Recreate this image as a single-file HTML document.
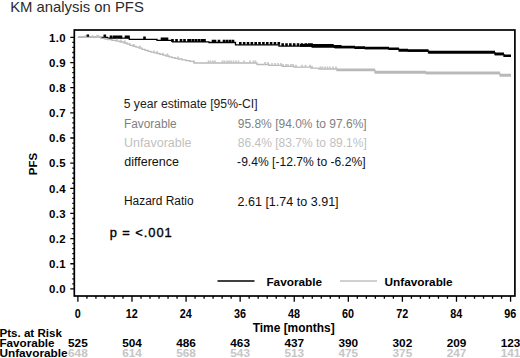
<!DOCTYPE html><html><head><meta charset="utf-8"><style>html,body{margin:0;padding:0;background:#fff;width:520px;height:358px;overflow:hidden}svg{display:block}text{font-family:"Liberation Sans",sans-serif}</style></head><body>
<svg width="520" height="358" viewBox="0 0 520 358">
<rect x="74.3" y="30.0" width="440.59999999999997" height="266.0" fill="none" stroke="#000" stroke-width="1.7"/>
<path d="M70.3,288.90H74.3 M72.3,283.87H74.3 M72.3,278.84H74.3 M72.3,273.81H74.3 M72.3,268.78H74.3 M70.3,263.75H74.3 M72.3,258.72H74.3 M72.3,253.69H74.3 M72.3,248.66H74.3 M72.3,243.63H74.3 M70.3,238.60H74.3 M72.3,233.57H74.3 M72.3,228.54H74.3 M72.3,223.51H74.3 M72.3,218.48H74.3 M70.3,213.45H74.3 M72.3,208.42H74.3 M72.3,203.39H74.3 M72.3,198.36H74.3 M72.3,193.33H74.3 M70.3,188.30H74.3 M72.3,183.27H74.3 M72.3,178.24H74.3 M72.3,173.21H74.3 M72.3,168.18H74.3 M70.3,163.15H74.3 M72.3,158.12H74.3 M72.3,153.09H74.3 M72.3,148.06H74.3 M72.3,143.03H74.3 M70.3,138.00H74.3 M72.3,132.97H74.3 M72.3,127.94H74.3 M72.3,122.91H74.3 M72.3,117.88H74.3 M70.3,112.85H74.3 M72.3,107.82H74.3 M72.3,102.79H74.3 M72.3,97.76H74.3 M72.3,92.73H74.3 M70.3,87.70H74.3 M72.3,82.67H74.3 M72.3,77.64H74.3 M72.3,72.61H74.3 M72.3,67.58H74.3 M70.3,62.55H74.3 M72.3,57.52H74.3 M72.3,52.49H74.3 M72.3,47.46H74.3 M72.3,42.43H74.3 M70.3,37.40H74.3 M77.90,296.0V301.7 M86.91,296.0V298.7 M95.93,296.0V298.7 M104.94,296.0V298.7 M113.96,296.0V298.7 M122.97,296.0V298.7 M131.98,296.0V301.7 M141.00,296.0V298.7 M150.01,296.0V298.7 M159.03,296.0V298.7 M168.04,296.0V298.7 M177.05,296.0V298.7 M186.07,296.0V301.7 M195.08,296.0V298.7 M204.10,296.0V298.7 M213.11,296.0V298.7 M222.12,296.0V298.7 M231.14,296.0V298.7 M240.15,296.0V301.7 M249.17,296.0V298.7 M258.18,296.0V298.7 M267.19,296.0V298.7 M276.21,296.0V298.7 M285.22,296.0V298.7 M294.24,296.0V301.7 M303.25,296.0V298.7 M312.26,296.0V298.7 M321.28,296.0V298.7 M330.29,296.0V298.7 M339.31,296.0V298.7 M348.32,296.0V301.7 M357.33,296.0V298.7 M366.35,296.0V298.7 M375.36,296.0V298.7 M384.38,296.0V298.7 M393.39,296.0V298.7 M402.40,296.0V301.7 M411.42,296.0V298.7 M420.43,296.0V298.7 M429.45,296.0V298.7 M438.46,296.0V298.7 M447.47,296.0V298.7 M456.49,296.0V301.7 M465.50,296.0V298.7 M474.52,296.0V298.7 M483.53,296.0V298.7 M492.54,296.0V298.7 M501.56,296.0V298.7 M510.57,296.0V301.7" stroke="#000" stroke-width="1.3" fill="none"/>
<text x="65.5" y="293.10" font-size="11.4" font-weight="bold" text-anchor="end" fill="#000" textLength="16.4" lengthAdjust="spacing">0.0</text>
<text x="65.5" y="267.95" font-size="11.4" font-weight="bold" text-anchor="end" fill="#000" textLength="16.4" lengthAdjust="spacing">0.1</text>
<text x="65.5" y="242.80" font-size="11.4" font-weight="bold" text-anchor="end" fill="#000" textLength="16.4" lengthAdjust="spacing">0.2</text>
<text x="65.5" y="217.65" font-size="11.4" font-weight="bold" text-anchor="end" fill="#000" textLength="16.4" lengthAdjust="spacing">0.3</text>
<text x="65.5" y="192.50" font-size="11.4" font-weight="bold" text-anchor="end" fill="#000" textLength="16.4" lengthAdjust="spacing">0.4</text>
<text x="65.5" y="167.35" font-size="11.4" font-weight="bold" text-anchor="end" fill="#000" textLength="16.4" lengthAdjust="spacing">0.5</text>
<text x="65.5" y="142.20" font-size="11.4" font-weight="bold" text-anchor="end" fill="#000" textLength="16.4" lengthAdjust="spacing">0.6</text>
<text x="65.5" y="117.05" font-size="11.4" font-weight="bold" text-anchor="end" fill="#000" textLength="16.4" lengthAdjust="spacing">0.7</text>
<text x="65.5" y="91.90" font-size="11.4" font-weight="bold" text-anchor="end" fill="#000" textLength="16.4" lengthAdjust="spacing">0.8</text>
<text x="65.5" y="66.75" font-size="11.4" font-weight="bold" text-anchor="end" fill="#000" textLength="16.4" lengthAdjust="spacing">0.9</text>
<text x="65.5" y="41.60" font-size="11.4" font-weight="bold" text-anchor="end" fill="#000" textLength="16.4" lengthAdjust="spacing">1.0</text>
<text transform="translate(77.70,317.6) scale(0.9,1)" font-size="12" font-weight="bold" text-anchor="middle" fill="#000">0</text>
<text transform="translate(131.78,317.6) scale(0.9,1)" font-size="12" font-weight="bold" text-anchor="middle" fill="#000">12</text>
<text transform="translate(185.87,317.6) scale(0.9,1)" font-size="12" font-weight="bold" text-anchor="middle" fill="#000">24</text>
<text transform="translate(239.95,317.6) scale(0.9,1)" font-size="12" font-weight="bold" text-anchor="middle" fill="#000">36</text>
<text transform="translate(294.04,317.6) scale(0.9,1)" font-size="12" font-weight="bold" text-anchor="middle" fill="#000">48</text>
<text transform="translate(348.12,317.6) scale(0.9,1)" font-size="12" font-weight="bold" text-anchor="middle" fill="#000">60</text>
<text transform="translate(402.20,317.6) scale(0.9,1)" font-size="12" font-weight="bold" text-anchor="middle" fill="#000">72</text>
<text transform="translate(456.29,317.6) scale(0.9,1)" font-size="12" font-weight="bold" text-anchor="middle" fill="#000">84</text>
<text transform="translate(510.37,317.6) scale(0.9,1)" font-size="12" font-weight="bold" text-anchor="middle" fill="#000">96</text>
<text x="293.7" y="332.1" font-size="11.95" font-weight="bold" text-anchor="middle" fill="#000">Time [months]</text>
<text transform="translate(37.3,164.1) rotate(-90)" font-size="11.5" font-weight="bold" text-anchor="middle" fill="#000">PFS</text>
<path d="M77.9,37.4H107.5V38.2H129.3V39.3H157V40.3H172.5V41.9H209V42.5H235.5V44.8H279V46.1H312V46.9H335V47.7H355V48.3H365V48.7H389V49.4H399V50.8H408V51.2H428.5V52.8H495V54.6H504V56.4H511V56.4" stroke="#000" stroke-width="1.3" fill="none"/>
<path d="M300.00,46.70H312.00V44.10H300.00zM312.00,47.50H335.00V44.90H312.00zM335.00,48.30H355.00V45.70H335.00zM355.00,48.90H365.00V46.30H355.00zM365.00,49.30H389.00V46.70H365.00zM389.00,50.00H399.00V47.40H389.00zM399.00,51.40H408.00V48.80H399.00zM408.00,51.80H428.50V49.20H408.00zM428.50,53.40H495.00V50.80H428.50zM495.00,55.20H504.00V52.60H495.00zM504.00,57.00H511.00V54.40H504.00z" fill="#000"/>
<path d="M86.50,37.40h2.6v-2.8h-2.6zM103.50,37.40h2.6v-2.8h-2.6zM109.70,38.20h2.6v-2.8h-2.6zM112.70,38.20h2.6v-2.8h-2.6zM114.70,38.20h2.6v-2.8h-2.6zM117.20,38.20h2.6v-2.8h-2.6zM119.70,38.20h2.6v-2.8h-2.6zM124.70,38.20h2.6v-2.8h-2.6zM127.20,38.20h2.6v-2.8h-2.6zM143.20,39.30h2.6v-2.8h-2.6zM160.70,40.30h2.6v-2.8h-2.6zM163.20,40.30h2.6v-2.8h-2.6zM165.70,40.30h2.6v-2.8h-2.6zM171.20,41.90h2.6v-2.8h-2.6zM175.20,41.90h2.6v-2.8h-2.6zM179.70,41.90h2.6v-2.8h-2.6zM183.20,41.90h2.6v-2.8h-2.6zM187.20,41.90h2.6v-2.8h-2.6zM188.70,41.90h2.6v-2.8h-2.6zM191.70,41.90h2.6v-2.8h-2.6zM194.70,41.90h2.6v-2.8h-2.6zM197.70,41.90h2.6v-2.8h-2.6zM200.70,41.90h2.6v-2.8h-2.6zM203.20,41.90h2.6v-2.8h-2.6zM211.70,42.50h2.6v-2.8h-2.6zM213.70,42.50h2.6v-2.8h-2.6zM217.70,42.50h2.6v-2.8h-2.6zM222.70,42.50h2.6v-2.8h-2.6zM225.70,42.50h2.6v-2.8h-2.6zM228.70,42.50h2.6v-2.8h-2.6zM231.70,42.50h2.6v-2.8h-2.6zM239.00,44.80h2.6v-2.8h-2.6zM242.85,44.80h2.6v-2.8h-2.6zM246.70,44.80h2.6v-2.8h-2.6zM250.55,44.80h2.6v-2.8h-2.6zM254.40,44.80h2.6v-2.8h-2.6zM258.25,44.80h2.6v-2.8h-2.6zM262.10,44.80h2.6v-2.8h-2.6zM265.95,44.80h2.6v-2.8h-2.6zM269.80,44.80h2.6v-2.8h-2.6zM273.65,44.80h2.6v-2.8h-2.6zM277.50,44.80h2.6v-2.8h-2.6zM281.35,46.10h2.6v-2.8h-2.6zM285.20,46.10h2.6v-2.8h-2.6zM289.05,46.10h2.6v-2.8h-2.6zM292.90,46.10h2.6v-2.8h-2.6zM296.75,46.10h2.6v-2.8h-2.6zM300.60,46.10h2.6v-2.8h-2.6zM304.45,46.10h2.6v-2.8h-2.6zM307.70,46.10h2.6v-2.8h-2.6zM310.30,46.10h2.6v-2.8h-2.6zM312.90,46.90h2.6v-2.8h-2.6zM315.50,46.90h2.6v-2.8h-2.6zM318.10,46.90h2.6v-2.8h-2.6zM320.70,46.90h2.6v-2.8h-2.6zM323.30,46.90h2.6v-2.8h-2.6zM325.90,46.90h2.6v-2.8h-2.6zM328.50,46.90h2.6v-2.8h-2.6zM331.10,46.90h2.6v-2.8h-2.6zM333.70,47.70h2.6v-2.8h-2.6zM336.30,47.70h2.6v-2.8h-2.6zM338.90,47.70h2.6v-2.8h-2.6z" fill="#000"/>
<path d="M77.9,37.4H101V38.3H105V39.0H108V39.6H112V40.4H116V41.2H120V42.0H124V43.0H127V44.0H130V45.4H133V46.4H136V47.2H139V48.2H142V49.3H145V50.3H148V51.3H151V52.2H154V52.9H157V53.5H160V54.3H163V55.2H166V56.0H169V56.8H172V57.6H175V58.3H178V59.0H182V59.8H186V60.6H190V61.4H194V63.0H257V64.5H269V65.4H282V66.3H294V67.2H311V68.2H319V69.0H337V70.5H375V72.8H426V73.6H500V75.8H511V75.8" stroke="#b9b9b9" stroke-width="1.3" fill="none"/>
<path d="M337.00,71.10H375.00V68.50H337.00zM375.00,73.40H426.00V70.80H375.00zM426.00,74.20H500.00V71.60H426.00zM500.00,76.40H511.00V73.80H500.00z" fill="#b9b9b9"/>
<path d="M84.70,37.40h1.6v-2.4h-1.6zM91.70,37.40h1.6v-2.4h-1.6zM96.20,37.40h1.6v-2.4h-1.6zM97.70,37.40h1.6v-2.4h-1.6zM116.20,41.20h1.6v-2.4h-1.6zM120.20,42.00h1.6v-2.4h-1.6zM124.20,43.00h1.6v-2.4h-1.6zM133.20,46.40h1.6v-2.4h-1.6zM139.20,48.20h1.6v-2.4h-1.6zM153.20,52.90h1.6v-2.4h-1.6zM156.20,53.50h1.6v-2.4h-1.6zM162.20,55.20h1.6v-2.4h-1.6zM166.70,56.00h1.6v-2.4h-1.6zM177.20,59.00h1.6v-2.4h-1.6zM193.20,63.00h1.6v-2.4h-1.6zM207.70,63.00h1.6v-2.4h-1.6zM209.70,63.00h1.6v-2.4h-1.6zM212.20,63.00h1.6v-2.4h-1.6zM214.20,63.00h1.6v-2.4h-1.6zM221.70,63.00h1.6v-2.4h-1.6zM223.70,63.00h1.6v-2.4h-1.6zM226.20,63.00h1.6v-2.4h-1.6zM228.20,63.00h1.6v-2.4h-1.6zM230.20,63.00h1.6v-2.4h-1.6zM232.70,63.00h1.6v-2.4h-1.6zM235.20,63.00h1.6v-2.4h-1.6zM237.70,63.00h1.6v-2.4h-1.6zM243.20,63.00h1.6v-2.4h-1.6zM249.20,63.00h1.6v-2.4h-1.6zM252.70,63.00h1.6v-2.4h-1.6zM254.70,63.00h1.6v-2.4h-1.6zM264.20,64.50h1.6v-2.4h-1.6zM267.20,64.50h1.6v-2.4h-1.6zM271.20,65.40h1.6v-2.4h-1.6zM274.20,65.40h1.6v-2.4h-1.6zM277.20,65.40h1.6v-2.4h-1.6zM280.20,65.40h1.6v-2.4h-1.6zM282.20,66.30h1.6v-2.4h-1.6zM285.20,66.30h1.6v-2.4h-1.6zM287.20,66.30h1.6v-2.4h-1.6zM290.20,66.30h1.6v-2.4h-1.6zM292.20,66.30h1.6v-2.4h-1.6zM295.20,67.20h1.6v-2.4h-1.6zM301.20,67.20h1.6v-2.4h-1.6zM304.70,67.20h1.6v-2.4h-1.6zM309.20,67.20h1.6v-2.4h-1.6zM311.20,68.20h1.6v-2.4h-1.6zM319.70,69.00h1.6v-2.4h-1.6zM321.70,69.00h1.6v-2.4h-1.6zM324.20,69.00h1.6v-2.4h-1.6zM326.70,69.00h1.6v-2.4h-1.6zM329.20,69.00h1.6v-2.4h-1.6zM332.20,69.00h1.6v-2.4h-1.6zM335.20,69.00h1.6v-2.4h-1.6z" fill="#c4c4c4"/>
<path d="M217.5,281H254.5" stroke="#000" stroke-width="1.5"/>
<path d="M340,281H377" stroke="#c0c0c0" stroke-width="1.5"/>
<text x="266.4" y="285.6" font-size="11.8" font-weight="bold" fill="#000">Favorable</text>
<text x="384.5" y="285.6" font-size="11.8" font-weight="bold" fill="#000">Unfavorable</text>
<text x="10.16" y="12.2" font-size="14.3" font-weight="normal" fill="#2b2b2b" textLength="133.67" lengthAdjust="spacingAndGlyphs">KM analysis on PFS</text>
<text x="123.71" y="107.7" font-size="12.0" font-weight="normal" fill="#222" textLength="133.84" lengthAdjust="spacingAndGlyphs">5 year estimate [95%-CI]</text>
<text x="124.05" y="127.9" font-size="12.0" font-weight="normal" fill="#7f7f7f" textLength="52.65" lengthAdjust="spacingAndGlyphs">Favorable</text>
<text x="237.74" y="127.5" font-size="12.0" font-weight="normal" fill="#7f7f7f" textLength="128.94" lengthAdjust="spacingAndGlyphs">95.8% [94.0% to 97.6%]</text>
<text x="124.11" y="146.8" font-size="12.0" font-weight="normal" fill="#bfbfbf" textLength="67.29" lengthAdjust="spacingAndGlyphs">Unfavorable</text>
<text x="237.82" y="146.8" font-size="12.0" font-weight="normal" fill="#bfbfbf" textLength="129.02" lengthAdjust="spacingAndGlyphs">86.4% [83.7% to 89.1%]</text>
<text x="124.24" y="166.1" font-size="12.0" font-weight="normal" fill="#111" textLength="54.82" lengthAdjust="spacingAndGlyphs">difference</text>
<text x="237.12" y="165.6" font-size="12.0" font-weight="normal" fill="#111" textLength="128.41" lengthAdjust="spacingAndGlyphs">-9.4% [-12.7% to -6.2%]</text>
<text x="123.94" y="205.0" font-size="12.0" font-weight="normal" fill="#111" textLength="69.62" lengthAdjust="spacingAndGlyphs">Hazard Ratio</text>
<text x="237.51" y="205.6" font-size="12.0" font-weight="normal" fill="#111" textLength="101.09" lengthAdjust="spacingAndGlyphs">2.61 [1.74 to 3.91]</text>
<text x="109.67" y="237.3" font-size="12.9" font-weight="normal" fill="#000" stroke="#000" stroke-width="0.35" textLength="62.06" lengthAdjust="spacing">p = &lt;.001</text>
<text x="-0.6" y="337" font-size="11.6" font-weight="bold" fill="#000">Pts. at Risk</text>
<text x="-0.6" y="347" font-size="11.7" font-weight="bold" fill="#000">Favorable</text>
<text x="-0.6" y="357" font-size="11.8" font-weight="bold" fill="#000">Unfavorable</text>
<text x="77.90" y="347" font-size="11.8" font-weight="bold" text-anchor="middle" fill="#000">525</text>
<text x="77.90" y="357.2" font-size="11.8" font-weight="bold" text-anchor="middle" fill="#c6c6c6">648</text>
<text x="131.98" y="347" font-size="11.8" font-weight="bold" text-anchor="middle" fill="#000">504</text>
<text x="131.98" y="357.2" font-size="11.8" font-weight="bold" text-anchor="middle" fill="#c6c6c6">614</text>
<text x="186.07" y="347" font-size="11.8" font-weight="bold" text-anchor="middle" fill="#000">486</text>
<text x="186.07" y="357.2" font-size="11.8" font-weight="bold" text-anchor="middle" fill="#c6c6c6">568</text>
<text x="240.15" y="347" font-size="11.8" font-weight="bold" text-anchor="middle" fill="#000">463</text>
<text x="240.15" y="357.2" font-size="11.8" font-weight="bold" text-anchor="middle" fill="#c6c6c6">543</text>
<text x="294.24" y="347" font-size="11.8" font-weight="bold" text-anchor="middle" fill="#000">437</text>
<text x="294.24" y="357.2" font-size="11.8" font-weight="bold" text-anchor="middle" fill="#c6c6c6">513</text>
<text x="348.32" y="347" font-size="11.8" font-weight="bold" text-anchor="middle" fill="#000">390</text>
<text x="348.32" y="357.2" font-size="11.8" font-weight="bold" text-anchor="middle" fill="#c6c6c6">475</text>
<text x="402.40" y="347" font-size="11.8" font-weight="bold" text-anchor="middle" fill="#000">302</text>
<text x="402.40" y="357.2" font-size="11.8" font-weight="bold" text-anchor="middle" fill="#c6c6c6">375</text>
<text x="456.49" y="347" font-size="11.8" font-weight="bold" text-anchor="middle" fill="#000">209</text>
<text x="456.49" y="357.2" font-size="11.8" font-weight="bold" text-anchor="middle" fill="#c6c6c6">247</text>
<text x="510.57" y="347" font-size="11.8" font-weight="bold" text-anchor="middle" fill="#000">123</text>
<text x="510.57" y="357.2" font-size="11.8" font-weight="bold" text-anchor="middle" fill="#c6c6c6">141</text>
</svg></body></html>
